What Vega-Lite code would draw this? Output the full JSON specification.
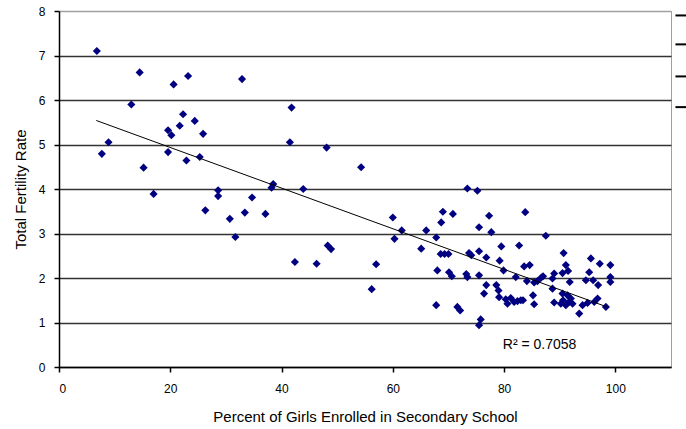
{
  "$schema": "https://vega.github.io/schema/vega-lite/v6.json",
  "width": 612,
  "height": 356,
  "autosize": {"type": "none"},
  "padding": {"left": 59, "top": 11, "right": 15, "bottom": 62},
  "background": "white",
  "config": {
    "view": {"stroke": "#a0a0a0", "strokeWidth": 1},
    "font": "Liberation Sans"
  },
  "datasets": {
    "points": [
      {"pct": 6.8, "tfr": 7.10}, {"pct": 14.5, "tfr": 6.62}, {"pct": 20.6, "tfr": 6.35}, {"pct": 23.2, "tfr": 6.54},
      {"pct": 13.0, "tfr": 5.90}, {"pct": 22.3, "tfr": 5.68}, {"pct": 24.4, "tfr": 5.53}, {"pct": 21.7, "tfr": 5.42},
      {"pct": 19.6, "tfr": 5.32}, {"pct": 20.2, "tfr": 5.21}, {"pct": 25.9, "tfr": 5.24}, {"pct": 8.9, "tfr": 5.05},
      {"pct": 7.7, "tfr": 4.79}, {"pct": 19.6, "tfr": 4.83}, {"pct": 25.3, "tfr": 4.72}, {"pct": 22.9, "tfr": 4.64},
      {"pct": 15.2, "tfr": 4.48}, {"pct": 17.0, "tfr": 3.89}, {"pct": 28.6, "tfr": 3.97}, {"pct": 28.6, "tfr": 3.84},
      {"pct": 26.3, "tfr": 3.52}, {"pct": 32.9, "tfr": 6.47}, {"pct": 41.8, "tfr": 5.83}, {"pct": 41.5, "tfr": 5.05},
      {"pct": 48.1, "tfr": 4.93}, {"pct": 54.3, "tfr": 4.49}, {"pct": 34.7, "tfr": 3.81}, {"pct": 38.5, "tfr": 4.11},
      {"pct": 38.2, "tfr": 4.03}, {"pct": 43.9, "tfr": 4.00}, {"pct": 30.7, "tfr": 3.33}, {"pct": 33.4, "tfr": 3.47},
      {"pct": 37.1, "tfr": 3.44}, {"pct": 31.7, "tfr": 2.92}, {"pct": 48.3, "tfr": 2.73}, {"pct": 48.9, "tfr": 2.65},
      {"pct": 42.4, "tfr": 2.36}, {"pct": 46.3, "tfr": 2.32}, {"pct": 57.0, "tfr": 2.31}, {"pct": 56.2, "tfr": 1.75},
      {"pct": 60.0, "tfr": 3.36}, {"pct": 60.3, "tfr": 2.88}, {"pct": 61.6, "tfr": 3.07}, {"pct": 65.1, "tfr": 2.66},
      {"pct": 66.0, "tfr": 3.07}, {"pct": 67.8, "tfr": 2.91}, {"pct": 69.0, "tfr": 3.49}, {"pct": 68.7, "tfr": 3.25},
      {"pct": 70.8, "tfr": 3.44}, {"pct": 68.6, "tfr": 2.54}, {"pct": 69.3, "tfr": 2.54}, {"pct": 70.0, "tfr": 2.54},
      {"pct": 68.0, "tfr": 2.17}, {"pct": 70.1, "tfr": 2.13}, {"pct": 70.6, "tfr": 2.04}, {"pct": 67.8, "tfr": 1.39},
      {"pct": 71.6, "tfr": 1.35}, {"pct": 72.1, "tfr": 1.27}, {"pct": 73.4, "tfr": 4.01}, {"pct": 75.2, "tfr": 3.96},
      {"pct": 77.3, "tfr": 3.40}, {"pct": 83.8, "tfr": 3.48}, {"pct": 75.5, "tfr": 3.14}, {"pct": 77.7, "tfr": 3.03},
      {"pct": 79.5, "tfr": 2.71}, {"pct": 82.7, "tfr": 2.73}, {"pct": 73.7, "tfr": 2.56}, {"pct": 74.1, "tfr": 2.51},
      {"pct": 75.5, "tfr": 2.60}, {"pct": 76.8, "tfr": 2.46}, {"pct": 79.2, "tfr": 2.39}, {"pct": 79.9, "tfr": 2.17},
      {"pct": 83.6, "tfr": 2.26}, {"pct": 84.6, "tfr": 2.29}, {"pct": 73.2, "tfr": 2.09}, {"pct": 73.4, "tfr": 2.02},
      {"pct": 75.5, "tfr": 2.06}, {"pct": 82.1, "tfr": 2.02}, {"pct": 84.1, "tfr": 1.93}, {"pct": 85.4, "tfr": 1.90},
      {"pct": 86.0, "tfr": 1.93}, {"pct": 86.7, "tfr": 2.01}, {"pct": 76.8, "tfr": 1.84}, {"pct": 78.6, "tfr": 1.84},
      {"pct": 79.0, "tfr": 1.72}, {"pct": 76.4, "tfr": 1.65}, {"pct": 79.1, "tfr": 1.57}, {"pct": 80.3, "tfr": 1.52},
      {"pct": 80.6, "tfr": 1.42}, {"pct": 81.2, "tfr": 1.55}, {"pct": 81.8, "tfr": 1.46}, {"pct": 82.4, "tfr": 1.48},
      {"pct": 83.0, "tfr": 1.50}, {"pct": 83.4, "tfr": 1.50}, {"pct": 85.2, "tfr": 1.61}, {"pct": 85.4, "tfr": 1.41},
      {"pct": 75.8, "tfr": 1.07}, {"pct": 75.5, "tfr": 0.94}, {"pct": 87.5, "tfr": 2.95}, {"pct": 90.7, "tfr": 2.56},
      {"pct": 95.6, "tfr": 2.44}, {"pct": 97.2, "tfr": 2.32}, {"pct": 99.1, "tfr": 2.29}, {"pct": 91.1, "tfr": 2.29},
      {"pct": 91.5, "tfr": 2.16}, {"pct": 90.5, "tfr": 2.11}, {"pct": 95.3, "tfr": 2.13}, {"pct": 87.0, "tfr": 2.04},
      {"pct": 89.0, "tfr": 2.10}, {"pct": 88.7, "tfr": 1.99}, {"pct": 91.8, "tfr": 1.91}, {"pct": 94.7, "tfr": 1.95},
      {"pct": 96.0, "tfr": 1.95}, {"pct": 96.9, "tfr": 1.84}, {"pct": 99.1, "tfr": 2.02}, {"pct": 99.1, "tfr": 1.91},
      {"pct": 88.7, "tfr": 1.76}, {"pct": 90.5, "tfr": 1.65}, {"pct": 91.4, "tfr": 1.61}, {"pct": 92.0, "tfr": 1.54},
      {"pct": 90.6, "tfr": 1.50}, {"pct": 91.7, "tfr": 1.46}, {"pct": 90.2, "tfr": 1.42}, {"pct": 92.3, "tfr": 1.42},
      {"pct": 91.1, "tfr": 1.39}, {"pct": 89.0, "tfr": 1.45}, {"pct": 94.1, "tfr": 1.39}, {"pct": 95.0, "tfr": 1.44},
      {"pct": 96.2, "tfr": 1.46}, {"pct": 96.8, "tfr": 1.54}, {"pct": 98.3, "tfr": 1.35}, {"pct": 93.5, "tfr": 1.20}
    ],
    "trend": [
      {"pct": 6.7, "tfr": 5.54},
      {"pct": 98.5, "tfr": 1.35}
    ],
    "label": [
      {"pct": 93.0, "tfr": 0.5, "text": "R² = 0.7058"}
    ],
    "stubs": [
      {"pct": 110.8, "pct2": 113.2, "tfr": 7.90},
      {"pct": 110.8, "pct2": 113.2, "tfr": 7.25},
      {"pct": 110.8, "pct2": 113.2, "tfr": 6.53},
      {"pct": 110.8, "pct2": 113.2, "tfr": 5.84}
    ]
  },
  "layer": [
    {
      "data": {"name": "points"},
      "mark": {"type": "point", "shape": "diamond", "filled": true, "size": 66, "color": "#000080", "opacity": 1},
      "encoding": {
        "x": {
          "field": "pct", "type": "quantitative",
          "scale": {"domain": [0, 110], "nice": false, "zero": false},
          "axis": {
            "title": "Percent of Girls Enrolled in Secondary School",
            "values": [0, 20, 40, 60, 80, 100],
            "grid": false,
            "domainColor": "#000000", "domainWidth": 1.5,
            "tickColor": "#000000", "tickSize": 5, "tickWidth": 1.5,
            "labelFont": "Liberation Sans", "labelFontSize": 12, "labelColor": "#000000", "labelPadding": 11,
            "titleFont": "Liberation Sans", "titleFontSize": 15, "titleFontWeight": "normal", "titleColor": "#000000",
            "titleY": 49, "titleBaseline": "middle"
          }
        },
        "y": {
          "field": "tfr", "type": "quantitative",
          "scale": {"domain": [0, 8], "nice": false, "zero": true},
          "axis": {
            "title": "Total Fertility Rate",
            "values": [0, 1, 2, 3, 4, 5, 6, 7, 8],
            "grid": true,
            "gridColor": {"condition": {"test": "datum.value == 8", "value": "#a0a0a0"}, "value": "#333333"},
            "gridWidth": 1.5,
            "domainColor": "#000000", "domainWidth": 1.5,
            "tickColor": "#000000", "tickSize": 5, "tickWidth": 1.5,
            "labelFont": "Liberation Sans", "labelFontSize": 12, "labelColor": "#000000", "labelPadding": 9,
            "titleFont": "Liberation Sans", "titleFontSize": 15, "titleFontWeight": "normal", "titleColor": "#000000",
            "titleX": -39, "titleY": 178, "titleAngle": -90, "titleBaseline": "middle", "titleAlign": "center"
          }
        }
      }
    },
    {
      "data": {"name": "trend"},
      "mark": {"type": "line", "color": "#000000", "strokeWidth": 1},
      "encoding": {
        "x": {"field": "pct", "type": "quantitative"},
        "y": {"field": "tfr", "type": "quantitative"}
      }
    },
    {
      "data": {"name": "label"},
      "mark": {"type": "text", "align": "right", "baseline": "middle", "font": "Liberation Sans", "fontSize": 14, "color": "#000000"},
      "encoding": {
        "x": {"field": "pct", "type": "quantitative"},
        "y": {"field": "tfr", "type": "quantitative"},
        "text": {"field": "text"}
      }
    },
    {
      "data": {"name": "stubs"},
      "mark": {"type": "rule", "color": "#000000", "strokeWidth": 2, "clip": false},
      "encoding": {
        "x": {"field": "pct", "type": "quantitative"},
        "x2": {"field": "pct2"},
        "y": {"field": "tfr", "type": "quantitative"}
      }
    }
  ]
}
